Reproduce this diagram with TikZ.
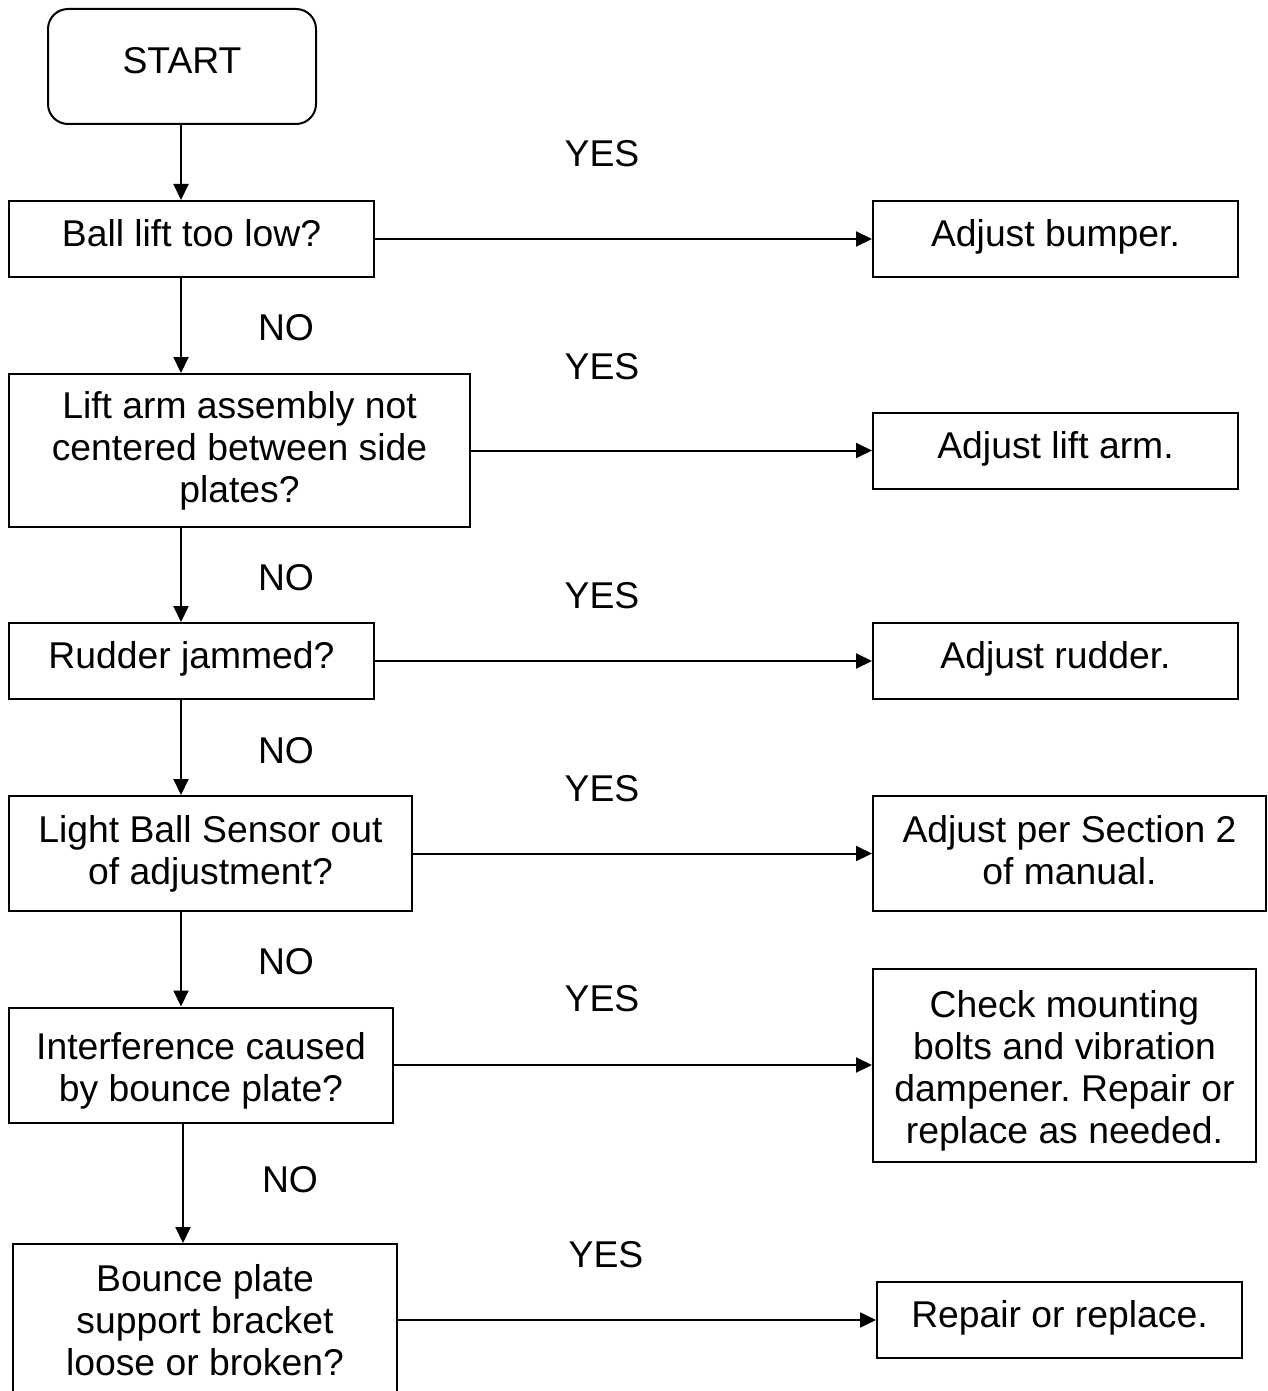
\documentclass[tikz,border=0pt]{standalone}
\usepackage{fontspec}
\setmainfont{Liberation Sans}
\usetikzlibrary{arrows.meta}
\frenchspacing
\begin{document}
\begin{tikzpicture}[x=1pt,y=-1pt,
  txt/.style={font=\fontsize{37.3}{42}\selectfont\frenchspacing},
  box/.style={txt,draw,line width=2pt,align=center,inner sep=0pt},
  onebox/.style={box,text height=27pt,text depth=12pt},
  lbl/.style={txt,inner sep=0pt},
  arr/.style={line width=2pt,-{Triangle[length=16pt,width=15pt]}}]
\clip (0,0) rectangle (1267,1391);
\fill[white] (0,0) rectangle (1267,1391);
% left column
\node[onebox,rounded corners=20pt,minimum width=268pt,minimum height=115pt] (start) at (182,66.5) {START};
\node[onebox,minimum width=365pt,minimum height=76pt] (q1) at (191.5,239) {Ball lift too low?};
\node[box,minimum width=461pt,minimum height=153pt] (q2) at (239.5,450.5) {Lift arm assembly not\\centered between side\\plates?};
\node[onebox,minimum width=365pt,minimum height=76pt] (q3) at (191.5,661) {Rudder jammed?};
\node[box,minimum width=403pt,minimum height=115pt] (q4) at (210.5,853.5) {Light Ball Sensor out\\of adjustment?};
\node[box,minimum width=384pt,minimum height=115pt,text height=78pt,text depth=5pt] (q5) at (201,1065) {Interference caused\\by bounce plate?};
\node[box,minimum width=384pt,minimum height=152pt] (q6) at (205,1320) {Bounce plate\\support bracket\\loose or broken?};
% right column
\node[onebox,minimum width=365pt,minimum height=76pt] (a1) at (1055.5,239) {Adjust bumper.};
\node[onebox,minimum width=365pt,minimum height=76pt] (a2) at (1055.5,450.5) {Adjust lift arm.};
\node[onebox,minimum width=365pt,minimum height=76pt] (a3) at (1055.5,661) {Adjust rudder.};
\node[box,minimum width=393pt,minimum height=115pt,text depth=7.8pt] (a4) at (1069.5,853.5) {Adjust per Section 2\\of manual.};
\node[box,minimum width=383pt,minimum height=193pt,text height=157pt,text depth=0pt] (a5) at (1064.5,1065) {Check mounting\\bolts and vibration\\dampener. Repair or\\replace as needed.};
\node[onebox,minimum width=365pt,minimum height=76pt] (a6) at (1059.5,1320) {Repair or replace.};
% labels
\node[lbl] (y1) at (602,154) {YES};
\node[lbl] (y2) at (602,367) {YES};
\node[lbl] (y3) at (602,596) {YES};
\node[lbl] (y4) at (602,789) {YES};
\node[lbl] (y5) at (602,999) {YES};
\node[lbl] (y6) at (606,1255) {YES};
\node[lbl] (n1) at (286,328) {NO};
\node[lbl] (n2) at (286,578) {NO};
\node[lbl] (n3) at (286,751) {NO};
\node[lbl] (n4) at (286,962) {NO};
\node[lbl] (n5) at (290,1180) {NO};
% vertical connectors
\coordinate (vx) at (181,0);
\coordinate (vx2) at (183,0);
\draw[arr] (start.south -| vx) -- (q1.north -| vx);
\draw[arr] (q1.south -| vx) -- (q2.north -| vx);
\draw[arr] (q2.south -| vx) -- (q3.north -| vx);
\draw[arr] (q3.south -| vx) -- (q4.north -| vx);
\draw[arr] (q4.south -| vx) -- (q5.north -| vx);
\draw[arr] (q5.south -| vx2) -- (q6.north -| vx2);
% horizontal connectors
\draw[arr] (q1.east) -- (a1.west);
\draw[arr] (q2.east) -- (a2.west);
\draw[arr] (q3.east) -- (a3.west);
\draw[arr] (q4.east) -- (a4.west);
\draw[arr] (q5.east) -- (a5.west);
\draw[arr] (q6.east) -- (a6.west);
\end{tikzpicture}
\end{document}
